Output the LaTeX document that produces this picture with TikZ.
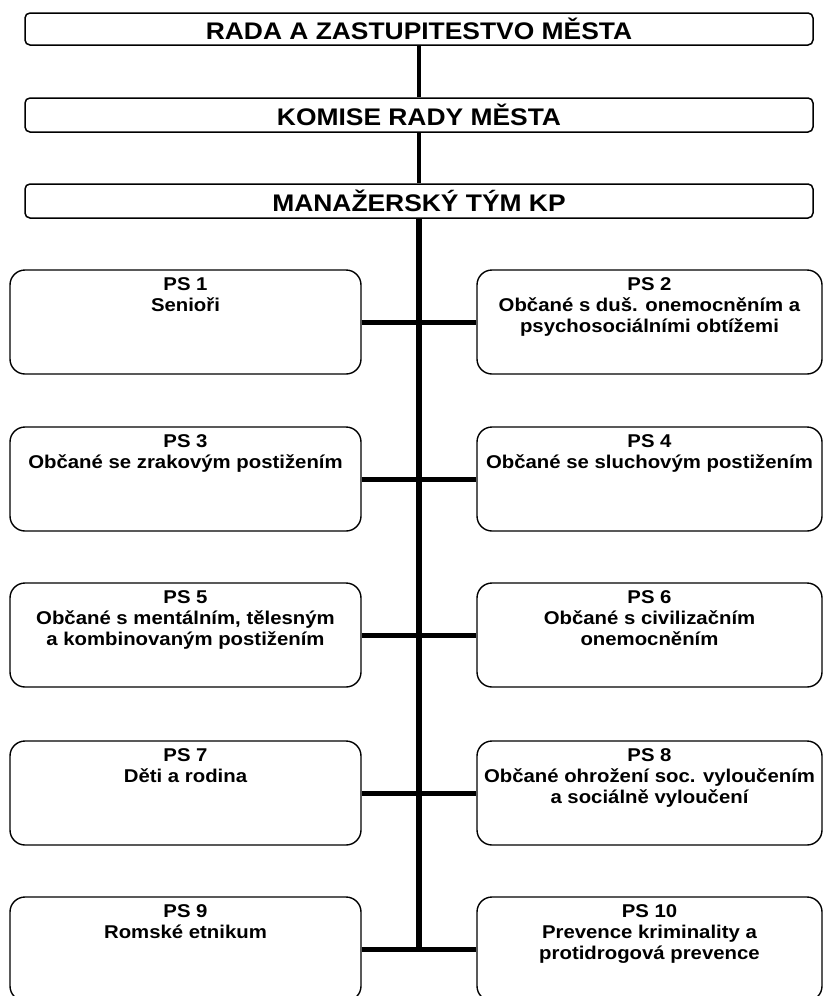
\documentclass[tikz,border=0pt]{standalone}
\usepackage{fontspec}
\setmainfont{Liberation Sans}
\newfontfamily\widesans[FakeStretch=1.1]{Liberation Sans}

\begin{document}
\begin{tikzpicture}[x=1pt,y=-1pt,
    headbox/.style={draw, line width=1.5pt, rounded corners=5pt, minimum width=788pt, inner sep=0pt,
      font=\widesans\fontsize{24}{27}\selectfont\bfseries},
    psbox/.style={draw, line width=1.4pt, rounded corners=15pt, minimum height=104pt, inner sep=0pt},
    pstext/.style={anchor=north, align=center, inner sep=0pt,
      font=\widesans\fontsize{18.5}{21}\selectfont\bfseries},
    spine/.style={line width=4.5pt},
    trunk/.style={line width=6.5pt},
    branch/.style={line width=5pt}]

        \useasboundingbox (0,0) rectangle (824,996);

        \begin{scope}[every node/.style={headbox}]
          \node[minimum height=32pt] (rada)   at (419,29)  {RADA A ZASTUPITESTVO MĚSTA};
          \node[minimum height=34pt] (komise) at (419,115) {KOMISE RADY MĚSTA};
          \node[minimum height=34pt] (tym)    at (419,201) {MANAŽERSKÝ TÝM KP};
        \end{scope}

        \begin{scope}[every node/.style={psbox, minimum width=351pt}]
          \node (ps1) at (185.5,322) {};
          \node (ps3) at (185.5,479) {};
          \node (ps5) at (185.5,635) {};
          \node (ps7) at (185.5,793) {};
          \node (ps9) at (185.5,949) {};
        \end{scope}

        \begin{scope}[every node/.style={psbox, minimum width=345pt}]
          \node (ps2)  at (649.5,322) {};
          \node (ps4)  at (649.5,479) {};
          \node (ps6)  at (649.5,635) {};
          \node (ps8)  at (649.5,793) {};
          \node (ps10) at (649.5,949) {};
        \end{scope}

        \begin{scope}[every node/.style={pstext}]
          \node (t1)  at ([yshift=-8pt]ps1.north)  {PS 1\\Senioři};
          \node (t2)  at ([yshift=-8pt]ps2.north)  {PS 2\\Občané s duš. onemocněním a\\psychosociálními obtížemi};
          \node (t3)  at ([yshift=-8pt]ps3.north)  {PS 3\\Občané se zrakovým postižením};
          \node (t4)  at ([yshift=-8pt]ps4.north)  {PS 4\\Občané se sluchovým postižením};
          \node (t5)  at ([yshift=-8pt]ps5.north)  {PS 5\\Občané s mentálním, tělesným\\a kombinovaným postižením};
          \node (t6)  at ([yshift=-8pt]ps6.north)  {PS 6\\Občané s civilizačním\\onemocněním};
          \node (t7)  at ([yshift=-8pt]ps7.north)  {PS 7\\Děti a rodina};
          \node (t8)  at ([yshift=-8pt]ps8.north)  {PS 8\\Občané ohrožení soc. vyloučením\\a sociálně vyloučení};
          \node (t9)  at ([yshift=-8pt]ps9.north)  {PS 9\\Romské etnikum};
          \node (t10) at ([yshift=-8pt]ps10.north) {PS 10\\Prevence kriminality a\\protidrogová prevence};
        \end{scope}

        \coordinate (end) at (419,950);

        \draw[spine] (rada) -- (komise);
        \draw[spine] (komise) -- (tym);
        \draw[trunk] (tym.south) -- (end);

        \begin{scope}[every path/.style={branch}]
          \draw (ps1) -- (ps2);
          \draw (ps3) -- (ps4);
          \draw (ps5) -- (ps6);
          \draw (ps7) -- (ps8);
          \draw (ps9) -- (ps10);
        \end{scope}

      \end{tikzpicture}
\end{document}
